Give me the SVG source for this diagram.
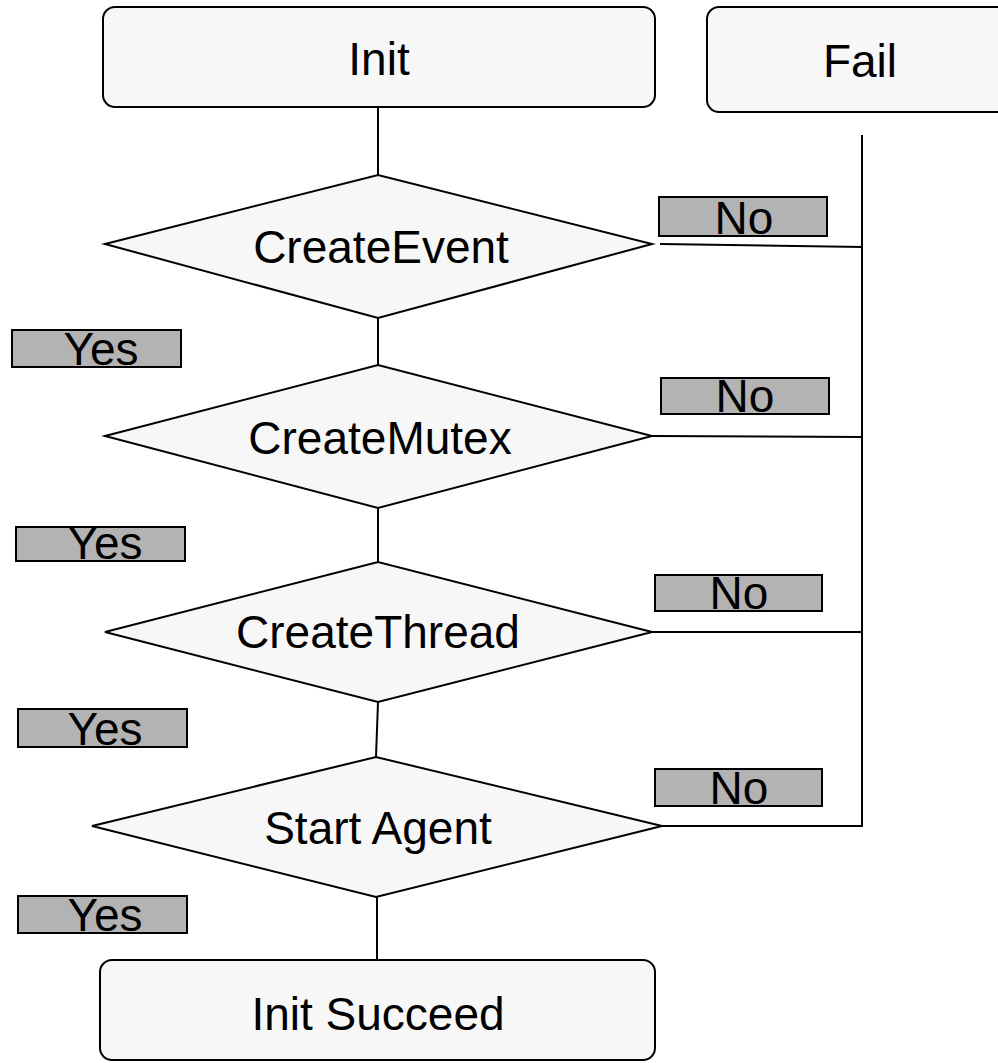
<svg xmlns="http://www.w3.org/2000/svg" width="998" height="1063" viewBox="0 0 998 1063">
<style>
.node{fill:#f7f7f7;stroke:#000;stroke-width:2}
.lbl{fill:#b3b3b3;stroke:#000;stroke-width:2}
.t{font-family:"Liberation Sans",Arial,sans-serif;font-size:46px;fill:#000;text-anchor:middle}
.c{stroke:#000;stroke-width:2;fill:none}
</style>
<rect width="998" height="1063" fill="#fff"/>
<g id="connectors">
<line class="c" x1="378" y1="107" x2="378" y2="175"/>
<line class="c" x1="378" y1="318" x2="378" y2="365"/>
<line class="c" x1="378" y1="508" x2="378" y2="562"/>
<line class="c" x1="378" y1="702" x2="376" y2="757"/>
<line class="c" x1="377" y1="897" x2="377" y2="960"/>
<line class="c" x1="862" y1="135" x2="862" y2="827"/>
<line class="c" x1="660" y1="244" x2="863" y2="247"/>
<line class="c" x1="652" y1="436" x2="863" y2="437"/>
<line class="c" x1="652" y1="632" x2="863" y2="632"/>
<line class="c" x1="662" y1="826" x2="863" y2="826"/>
</g>
<g id="init"><rect class="node" x="103" y="7" width="552" height="100" rx="12"/><text class="t" x="379" y="75">Init</text></g>
<g id="fail"><rect class="node" x="707" y="7" width="320" height="105" rx="12"/><text class="t" x="860" y="77">Fail</text></g>
<g id="createEvent"><polygon class="node" points="105,244 378,175 652,244 378,318"/><text class="t" x="381" y="263">CreateEvent</text></g>
<g id="createMutex"><polygon class="node" points="105,436 378,365 652,436 378,508"/><text class="t" x="380" y="454">CreateMutex</text></g>
<g id="createThread"><polygon class="node" points="105,632 378,562 652,632 378,702"/><text class="t" x="378" y="648">CreateThread</text></g>
<g id="startAgent"><polygon class="node" points="92,826 376,757 662,826 376,897"/><text class="t" x="378" y="844">Start Agent</text></g>
<g id="initSucceed"><rect class="node" x="100" y="960" width="555" height="100" rx="12"/><text class="t" x="378" y="1030">Init Succeed</text></g>
<g id="no1"><rect class="lbl" x="659" y="197" width="168" height="39"/><text class="t" x="744" y="234">No</text></g>
<g id="no2"><rect class="lbl" x="661" y="378" width="168" height="36"/><text class="t" x="745" y="412">No</text></g>
<g id="no3"><rect class="lbl" x="655" y="575" width="167" height="36"/><text class="t" x="739" y="609">No</text></g>
<g id="no4"><rect class="lbl" x="655" y="769" width="167" height="37"/><text class="t" x="739" y="804">No</text></g>
<g id="yes1"><rect class="lbl" x="12" y="330" width="169" height="37"/><text class="t" x="101" y="365">Yes</text></g>
<g id="yes2"><rect class="lbl" x="16" y="527" width="169" height="34"/><text class="t" x="105" y="559">Yes</text></g>
<g id="yes3"><rect class="lbl" x="18" y="709" width="169" height="38"/><text class="t" x="105" y="745">Yes</text></g>
<g id="yes4"><rect class="lbl" x="18" y="896" width="169" height="37"/><text class="t" x="105" y="931">Yes</text></g>
</svg>
